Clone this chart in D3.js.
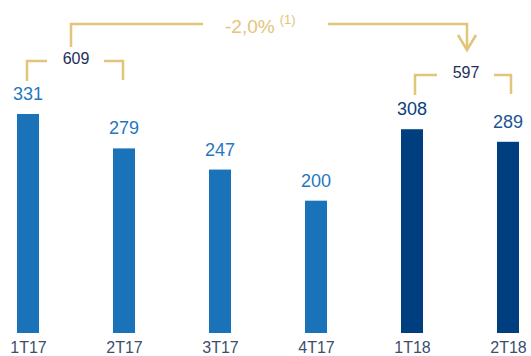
<!DOCTYPE html>
<html><head><meta charset="utf-8">
<script src="https://d3js.org/d3.v7.min.js"></script>
<style>
body{margin:0;background:#fff;}
svg{display:block;font-family:"Liberation Sans",Arial,sans-serif;}
</style>
</head><body>
<svg width="531" height="356"></svg>
<script>
// data
var categories = ["1T17", "2T17", "3T17", "4T17", "1T18", "2T18"];
var values = [331, 279, 247, 200, 308, 289];
var barColors = ["#1a73b8", "#1a73b8", "#1a73b8", "#1a73b8", "#003f7f", "#003f7f"];
var labelColors = ["#1f78c1", "#1f78c1", "#1f78c1", "#1f78c1", "#0b3f7e", "#1a5596"];
var groupTotals = [609, 597];
var groupMembers = [[0, 1], [4, 5]];
var changeLabel = "-2,0%";
var changeNote = "(1)";

var gold = "#e2c47a";
var svg = d3.select("svg");

var x = d3.scalePoint().domain(categories).range([28, 508]);
var y = d3.scaleLinear().domain([0, 331]).range([333, 114]);
var barW = 22;

// bars
svg.selectAll("rect.bar")
    .data(values)
    .enter()
    .append("rect")
    .attr("class", "bar")
    .attr("x", function(d, i){ return x(categories[i]) - barW / 2; })
    .attr("y", function(d){ return y(d); })
    .attr("width", barW)
    .attr("height", function(d){ return y(0) - y(d); })
    .attr("fill", function(d, i){ return barColors[i]; });

// value labels
svg.selectAll("text.val")
    .data(values)
    .enter()
    .append("text")
    .attr("class", "val")
    .attr("x", function(d, i){ return x(categories[i]); })
    .attr("y", function(d){ return y(d) - 14; })
    .attr("text-anchor", "middle")
    .attr("font-size", 18)
    .attr("fill", function(d, i){ return labelColors[i]; })
    .text(function(d){ return d; });

// category axis labels
var axis = d3.axisBottom(x).tickSize(0).tickPadding(0);
var g = svg.append("g").attr("transform", "translate(0," + 338 + ")").call(axis);
g.select(".domain").remove();
g.selectAll("text")
    .attr("font-size", 16)
    .attr("font-family", "Liberation Sans, Arial, sans-serif")
    .attr("fill", "#3e4d6c")
    .attr("dy", "0.95em");

// brackets with group totals
var bracketY = [61, 75];
var bracketDx = [-1, 3];
var bracketTxtDx = [0, 6];
groupMembers.forEach(function(m, k){
    var x0 = x(categories[m[0]]) + bracketDx[k];
    var x1 = x(categories[m[1]]) + bracketDx[k];
    var cx = (x0 + x1) / 2 + bracketTxtDx[k] - bracketDx[k];
    var by = bracketY[k];
    svg.append("path")
        .attr("d", "M" + x0 + "," + (by + 20) + "V" + by + "H" + (cx - 29))
        .attr("fill", "none").attr("stroke", gold).attr("stroke-width", 2.5);
    svg.append("path")
        .attr("d", "M" + (cx + 28) + "," + by + "H" + x1 + "V" + (by + 19))
        .attr("fill", "none").attr("stroke", gold).attr("stroke-width", 2.5);
    svg.append("text")
        .attr("x", cx)
        .attr("y", by + 3)
        .attr("text-anchor", "middle")
        .attr("font-size", 16)
        .attr("fill", "#1e2f5a")
        .text(groupTotals[k]);
});

// top change arrow
var ax0 = (x(categories[0]) + x(categories[1])) / 2 - 5;
var ax1 = (x(categories[4]) + x(categories[5])) / 2 + 7;
var topY = 24;
svg.append("path")
    .attr("d", "M" + ax0 + "," + 47 + "V" + topY + "H" + 203)
    .attr("fill", "none").attr("stroke", gold).attr("stroke-width", 2.5);
svg.append("path")
    .attr("d", "M" + 328 + "," + topY + "H" + ax1 + "V" + 49)
    .attr("fill", "none").attr("stroke", gold).attr("stroke-width", 2.5);
svg.append("path")
    .attr("d", "M" + (ax1 - 9) + "," + 35 + "L" + ax1 + "," + 50 + "L" + (ax1 + 9) + "," + 35)
    .attr("fill", "none").attr("stroke", gold).attr("stroke-width", 2.5);

var ct = svg.append("text")
    .attr("x", 225)
    .attr("y", 33)
    .attr("font-size", 19)
    .attr("fill", gold);
ct.append("tspan").text(changeLabel);
ct.append("tspan").attr("dx", 5).attr("dy", -9).attr("font-size", 13).text(changeNote);
</script>
</body></html>
